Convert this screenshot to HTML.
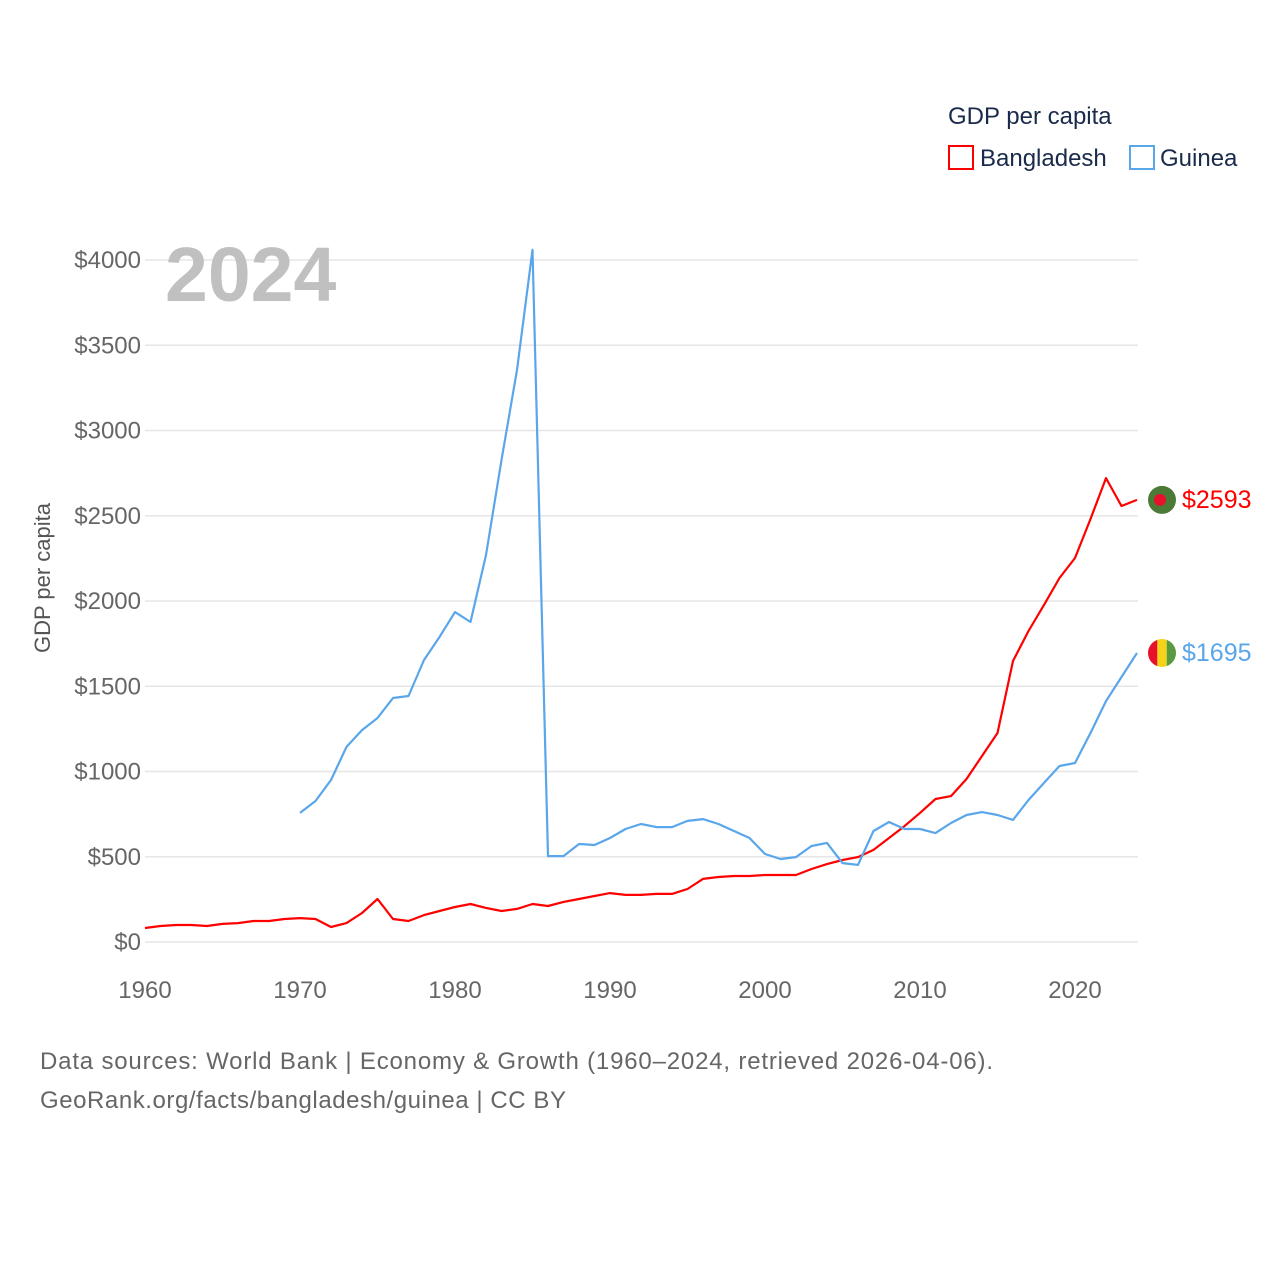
<!DOCTYPE html>
<html><head><meta charset="utf-8"><style>
body{margin:0;background:#fff;font-family:"Liberation Sans",sans-serif;}
svg text{font-family:"Liberation Sans",sans-serif;}
</style></head><body>
<svg width="1280" height="1280" viewBox="0 0 1280 1280">
<g id="grid"></g>
<g id="yticks"></g>
<g id="xticks"></g>
<text x="165" y="301" font-size="77" font-weight="bold" fill="#c0c0c0">2024</text>
<text transform="translate(50,578) rotate(-90)" text-anchor="middle" font-size="22" fill="#555">GDP per capita</text>
<g id="series"></g>
<g>
<text x="948" y="124" font-size="24" fill="#1a2a4a">GDP per capita</text>
<g><rect x="949" y="146" width="24" height="23" fill="none" stroke="#f00" stroke-width="2"/><text x="980" y="166" font-size="24" fill="#1a2a4a">Bangladesh</text></g>
<g><rect x="1130" y="146" width="24" height="23" fill="none" stroke="#5aa6ea" stroke-width="2"/><text x="1160" y="166" font-size="24" fill="#1a2a4a">Guinea</text></g>
</g>
<text x="40" y="1069" font-size="24" fill="#666" textLength="953">Data sources: World Bank | Economy &amp; Growth (1960–2024, retrieved 2026-04-06).</text>
<text x="40" y="1108" font-size="24" fill="#666" textLength="526">GeoRank.org/facts/bangladesh/guinea | CC BY</text>
</svg>
<script>
const yTicks=[0,500,1000,1500,2000,2500,3000,3500,4000];
const xTicks=[1960,1970,1980,1990,2000,2010,2020];
const bangladeshStart=1960;
const bangladesh=[82,94,100,100,94,106,111,123,123,135,140,135,88,111,170,252,135,123,158,182,205,223,200,182,194,223,211,235,252,270,287,276,276,282,282,311,370,381,387,387,393,393,393,428,457,481,498,540,610,680,757,839,856,956,1091,1226,1648,1824,1977,2135,2252,2481,2721,2557,2593];
const guineaStart=1970;
const guinea=[757,827,950,1144,1243,1314,1431,1443,1654,1789,1935,1877,2270,2827,3355,4059,504,504,575,569,610,663,692,674,674,710,721,692,651,610,516,487,498,563,581,463,452,651,704,663,663,639,698,745,762,745,716,833,933,1032,1050,1226,1413,1554,1695];
const NS='http://www.w3.org/2000/svg';
const X=yr=>145+(yr-1960)*15.5;
const Y=v=>942-v*0.1705;
function mk(tag,attrs,parent){const e=document.createElementNS(NS,tag);for(const k in attrs)e.setAttribute(k,attrs[k]);parent.appendChild(e);return e;}
const grid=document.getElementById('grid'),yt=document.getElementById('yticks'),xt=document.getElementById('xticks'),ser=document.getElementById('series');
yTicks.forEach(v=>{
  const l=mk('line',{x1:145,x2:1138,y1:Y(v),y2:Y(v),stroke:'#e6e6e6','stroke-width':1.5},grid);
  
  
  const t=mk('text',{x:141,y:Y(v)+8,'text-anchor':'end','font-size':24,fill:'#666'},yt);
  t.textContent='$'+v;
  
  
});
xTicks.forEach(yr=>{
  const t=mk('text',{x:X(yr),y:998,'text-anchor':'middle','font-size':24,fill:'#666'},xt);
  t.textContent=yr;
  
  
});
function line(data,start,color,name){
  const pts=data.map((v,i)=>X(start+i).toFixed(1)+','+Y(v).toFixed(1)).join(' ');
  const p=mk('polyline',{points:pts,fill:'none',stroke:color,'stroke-width':2.2,'stroke-linejoin':'round'},ser);
  
  
  const last=data[data.length-1];
  return Y(last);
}
const yb=line(bangladesh,bangladeshStart,'#ff0000','bangladesh');
const yg=line(guinea,guineaStart,'#5aa6ea','guinea');
const fx=1162;
const fb=mk('g',{},ser);


mk('circle',{cx:fx,cy:yb,r:14,fill:'#4a7a35'},fb);
mk('circle',{cx:fx-2,cy:yb,r:6,fill:'#e8102a'},fb);
const tb=mk('text',{x:1182,y:yb+8,'font-size':25,fill:'#ff0000'},ser);
tb.textContent='$'+bangladesh[bangladesh.length-1];


const fg=mk('g',{},ser);


const cp=mk('clipPath',{id:'gc'},fg);mk('circle',{cx:fx,cy:yg,r:14},cp);
mk('rect',{x:fx-14,y:yg-14,width:9.4,height:28,fill:'#e8102a','clip-path':'url(#gc)'},fg);
mk('rect',{x:fx-4.7,y:yg-14,width:9.4,height:28,fill:'#f5d31a','clip-path':'url(#gc)'},fg);
mk('rect',{x:fx+4.7,y:yg-14,width:9.4,height:28,fill:'#5a9a40','clip-path':'url(#gc)'},fg);
const tg=mk('text',{x:1182,y:yg+8,'font-size':25,fill:'#5aa6ea'},ser);
tg.textContent='$'+guinea[guinea.length-1];


</script>
</body></html>
